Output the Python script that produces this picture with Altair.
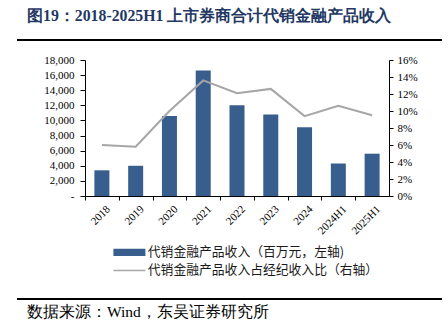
import altair as alt
import pandas as pd

cats = ["2018", "2019", "2020", "2021", "2022", "2023", "2024", "2024H1", "2025H1"]
income = [3400, 4000, 10600, 16600, 12000, 10800, 9100, 4300, 5600]
ratio = [6.0, 5.8, 10.0, 13.6, 12.1, 12.6, 9.4, 10.6, 9.5]
bar_label = "代销金融产品收入（百万元，左轴)"
line_label = "代销金融产品收入占经纪收入比（右轴）"
title_text = "图19：2018-2025H1 上市券商合计代销金融产品收入"
source_text = "数据来源：Wind，东吴证券研究所"
left_ticks = [0, 2000, 4000, 6000, 8000, 10000, 12000, 14000, 16000, 18000]
right_ticks = [0, 2, 4, 6, 8, 10, 12, 14, 16]

df = pd.DataFrame({"cat": cats, "income": income, "ratio": ratio,
                   "s1": bar_label, "s2": line_label})

W, H = 304, 136
step = W / len(cats)
serif = "Liberation Serif"
cjk = "Noto Sans CJK SC"

x = alt.X("cat:N", sort=cats, title=None,
          scale=alt.Scale(paddingInner=0, paddingOuter=0),
          axis=alt.Axis(labelAngle=-45, labelFont=serif, labelFontSize=11,
                        labelColor="black", domainColor="black", tickColor="black",
                        tickSize=4, tickOffset=-step / 2, labelOffset=step / 2 + 2,
                        labelPadding=3))

bars = alt.Chart(df).mark_bar(size=15).encode(
    x=x,
    y=alt.Y("income:Q", title=None,
            scale=alt.Scale(domain=[0, 18000], nice=False),
            axis=alt.Axis(orient="left", values=left_ticks, labelFont=serif,
                          labelFontSize=11, labelColor="black", domainColor="black",
                          tickColor="black", tickSize=5, labelPadding=6, grid=False,
                          labelExpr="datum.value == 0 ? '-\u2002' : format(datum.value, ',')")),
    color=alt.Color("s1:N", scale=alt.Scale(domain=[bar_label], range=["#385E8E"]),
                    legend=alt.Legend(orient="none", legendX=38, legendY=186, title=None,
                                      symbolType="M-4,-0.9H4V0.9H-4Z", symbolSize=64,
                                      symbolStrokeWidth=0, labelOffset=12, labelLimit=0,
                                      labelFont=cjk, labelFontSize=12.8, labelColor="#1a1a1a")),
)

line = alt.Chart(df).mark_line(strokeWidth=2).encode(
    x=x,
    y=alt.Y("ratio:Q", title=None,
            scale=alt.Scale(domain=[0, 16], nice=False),
            axis=alt.Axis(orient="right", values=right_ticks, labelFont=serif,
                          labelFontSize=11, labelColor="black", domainColor="black",
                          tickColor="black", tickSize=4, labelPadding=4, grid=False,
                          labelExpr="datum.value + '%'")),
    stroke=alt.Stroke("s2:N", scale=alt.Scale(domain=[line_label], range=["#A6A6A6"]),
                      legend=alt.Legend(orient="none", legendX=38, legendY=204, title=None,
                                        symbolType="M-4,0H4", symbolSize=64,
                                        symbolStrokeWidth=1.5, labelOffset=12, labelLimit=0,
                                        labelFont=cjk, labelFontSize=12.8, labelColor="#1a1a1a")),
)

deco = pd.DataFrame({"title": [title_text], "source": [source_text]})
title = alt.Chart(deco).mark_text(align="left", baseline="alphabetic", font=serif,
                                  fontSize=15.8, fontWeight="bold", color="#1F3864").encode(
    text="title:N", x=alt.value(27 - 85), y=alt.value(21 - 60))
source = alt.Chart(deco).mark_text(align="left", baseline="alphabetic", font=serif,
                                   fontSize=15.5, color="black").encode(
    text="source:N", x=alt.value(27 - 85), y=alt.value(317 - 60))
rule_top = alt.Chart(deco).mark_rule(color="black", strokeWidth=2).encode(
    x=alt.value(17 - 85), x2=alt.value(442 - 85), y=alt.value(40 - 60))
rule_bot = alt.Chart(deco).mark_rule(color="black", strokeWidth=1.8).encode(
    x=alt.value(17 - 85), x2=alt.value(442 - 85), y=alt.value(299 - 60))

chart = alt.layer(bars, line, title, source, rule_top, rule_bot).resolve_scale(
    y="independent"
).properties(
    width=W, height=H, autosize="none",
    padding={"left": 85, "top": 60, "right": 448 - 85 - W, "bottom": 335 - 60 - H},
    background="white",
).configure_view(stroke=None)

chart.save("out.html", embed_options={"renderer": "svg", "actions": False})
